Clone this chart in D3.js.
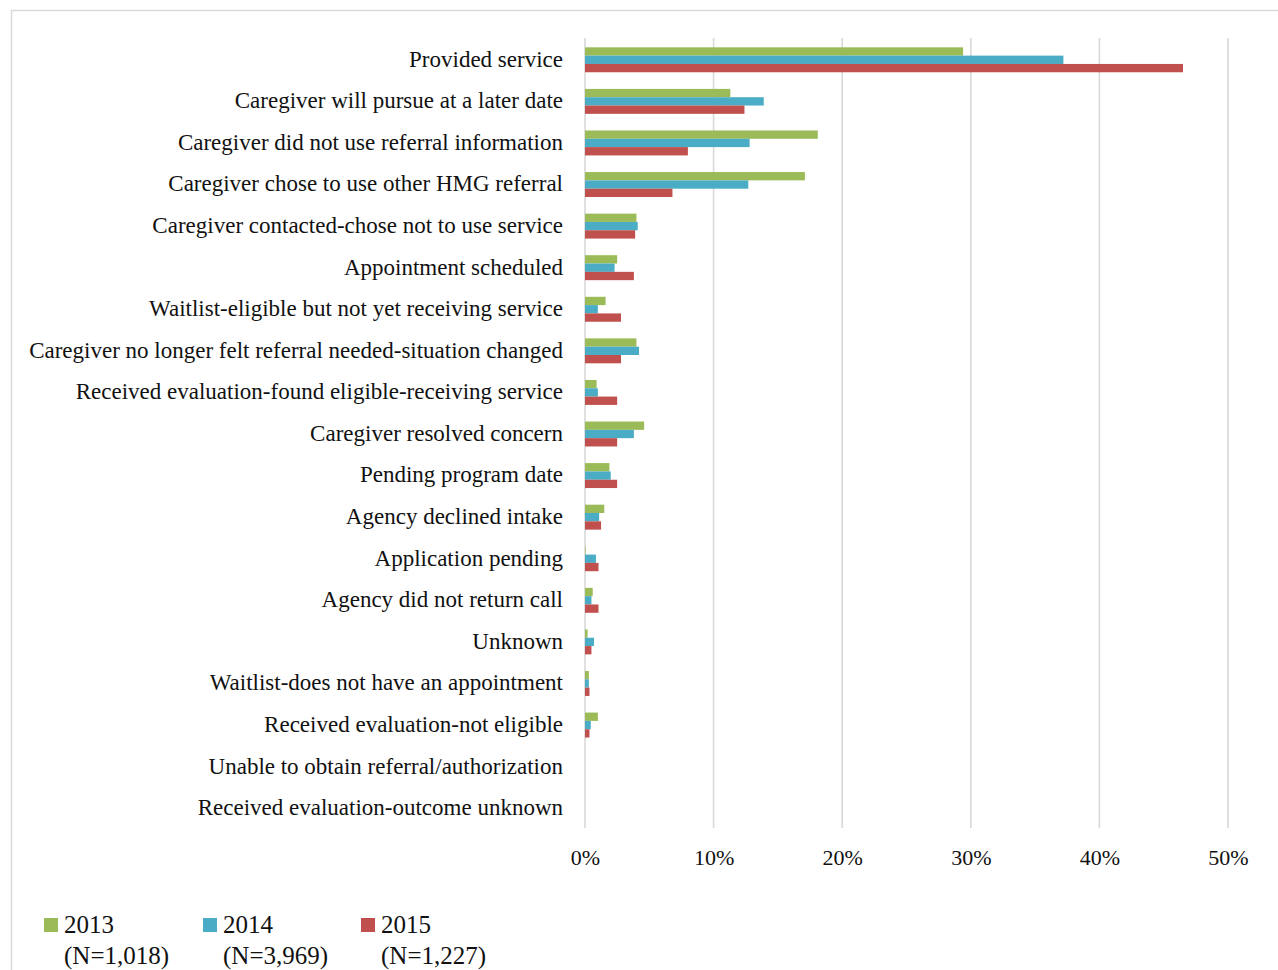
<!DOCTYPE html>
<html>
<head>
<meta charset="utf-8">
<script src="https://cdn.jsdelivr.net/npm/d3@7"></script>
<style>
  html, body { margin: 0; padding: 0; background: #fff; }
  svg { display: block; }
  text { font-family: "Liberation Serif", "DejaVu Serif", serif; fill: #111; }
</style>
</head>
<body>
<svg id="chart" width="1278" height="970"></svg>
<script>
const categories = [
  "Provided service",
  "Caregiver will pursue at a later date",
  "Caregiver did not use referral information",
  "Caregiver chose to use other HMG referral",
  "Caregiver contacted-chose not to use service",
  "Appointment scheduled",
  "Waitlist-eligible but not yet receiving service",
  "Caregiver no longer felt referral needed-situation changed",
  "Received evaluation-found eligible-receiving service",
  "Caregiver resolved concern",
  "Pending program date",
  "Agency declined intake",
  "Application pending",
  "Agency did not return call",
  "Unknown",
  "Waitlist-does not have an appointment",
  "Received evaluation-not eligible",
  "Unable to obtain referral/authorization",
  "Received evaluation-outcome unknown"
];
const values2013 = [29.4, 11.3, 18.1, 17.1, 4.0, 2.5, 1.6, 4.0, 0.9, 4.6, 1.9, 1.5, 0.05, 0.6, 0.2, 0.3, 1.0, 0, 0];
const values2014 = [37.2, 13.9, 12.8, 12.7, 4.1, 2.3, 1.0, 4.2, 1.0, 3.8, 2.0, 1.1, 0.85, 0.5, 0.7, 0.3, 0.45, 0, 0];
const values2015 = [46.5, 12.4, 8.0, 6.8, 3.9, 3.8, 2.8, 2.8, 2.5, 2.5, 2.5, 1.25, 1.05, 1.05, 0.5, 0.35, 0.35, 0, 0];
const seriesNames = ["2013", "2014", "2015"];
const seriesN = ["(N=1,018)", "(N=3,969)", "(N=1,227)"];
const seriesColors = ["#9BBB59", "#4BACC6", "#C0504D"];
const tickValues = [0, 10, 20, 30, 40, 50];

const svg = d3.select("#chart");

// chart frame
svg.append("path")
  .attr("d", "M11.5,970 L11.5,10.5 L1290,10.5")
  .attr("fill", "none").attr("stroke", "#d9d9d9").attr("stroke-width", 1.5);

const x = d3.scaleLinear().domain([0, 50]).range([585, 1228]);
const y = d3.scaleBand().domain(categories).range([39, 829]).paddingInner(0.4).paddingOuter(0.2);
const ySub = d3.scaleBand().domain(seriesNames).range([0, y.bandwidth()]);

// gridlines
svg.append("g").selectAll("line").data(tickValues).join("line")
  .attr("x1", d => x(d)).attr("x2", d => x(d))
  .attr("y1", 38).attr("y2", 828)
  .attr("stroke", "#d9d9d9").attr("stroke-width", 1.6);

// bars
const series = [values2013, values2014, values2015];
series.forEach((vals, si) => {
  svg.append("g").selectAll("rect").data(categories).join("rect")
    .attr("x", x(0))
    .attr("y", (c) => y(c) + ySub(seriesNames[si]))
    .attr("width", (c, i) => Math.max(0, x(vals[i]) - x(0)))
    .attr("height", ySub.bandwidth())
    .attr("fill", seriesColors[si]);
});

// category labels
const yAxis = d3.axisLeft(y).tickSize(0).tickPadding(0);
const gy = svg.append("g").attr("transform", "translate(563,0)").call(yAxis);
gy.select(".domain").remove();
gy.selectAll("text")
  .style("font-family", '"Liberation Serif", serif')
  .attr("font-size", 23).attr("fill", "#111").attr("dy", "0.3em");

// x axis labels
const xAxis = d3.axisBottom(x).tickValues(tickValues).tickSize(0).tickPadding(0).tickFormat(d => d + "%");
const gx = svg.append("g").attr("transform", "translate(0,849)").call(xAxis);
gx.select(".domain").remove();
gx.selectAll("text")
  .style("font-family", '"Liberation Serif", serif')
  .attr("font-size", 22).attr("fill", "#111");

// legend
const legendX = [44, 203, 361];
const lg = svg.append("g").selectAll("g").data(seriesNames).join("g")
  .attr("transform", (d, i) => `translate(${legendX[i]},0)`);
lg.append("rect").attr("x", 0).attr("y", 918).attr("width", 14).attr("height", 14)
  .attr("fill", (d, i) => seriesColors[i]);
lg.append("text").attr("x", 20).attr("y", 933).attr("font-size", 25).text(d => d);
lg.append("text").attr("x", 20).attr("y", 964).attr("font-size", 25).text((d, i) => seriesN[i]);
</script>
</body>
</html>
